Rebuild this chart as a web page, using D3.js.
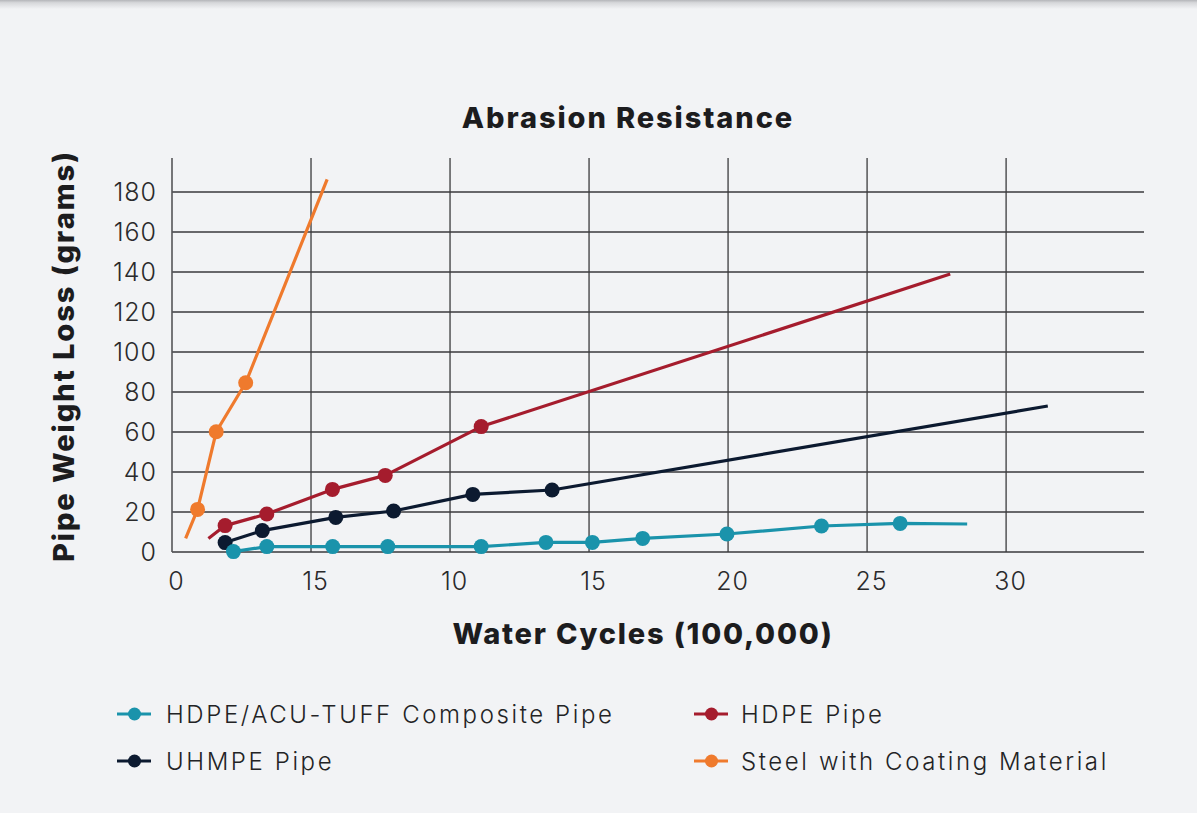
<!DOCTYPE html>
<html>
<head>
<meta charset="utf-8">
<script src="https://cdn.jsdelivr.net/npm/d3@7"></script>
<style>
  html, body { margin: 0; padding: 0; background: #f2f3f5; }
  svg { display: block; }
</style>
</head>
<body>
<svg id="chart" width="1197" height="813"></svg>
<script>
// ---------- data ----------
const chartTitle = "Abrasion Resistance";
const xTitle = "Water Cycles (100,000)";
const yTitle = "Pipe Weight Loss (grams)";

const xTickValues = [0, 5, 10, 15, 20, 25, 30];
const xTickLabels = ["0", "15", "10", "15", "20", "25", "30"];
const yTickValues = [0, 20, 40, 60, 80, 100, 120, 140, 160, 180];
const yTickLabels = ["0", "20", "40", "60", "80", "100", "120", "140", "160", "180"];

const seriesNames = ["HDPE/ACU-TUFF Composite Pipe", "HDPE Pipe", "UHMPE Pipe", "Steel with Coating Material"];

// measured points (markers)
const compositeX = [2.21, 3.41, 5.78, 7.76, 11.12, 13.45, 15.12, 16.93, 19.96, 23.36, 26.19];
const compositeY = [0.2, 2.7, 2.7, 2.7, 2.7, 4.8, 4.8, 6.8, 9.0, 13.0, 14.3];
const hdpeX = [1.91, 3.41, 5.77, 7.67, 11.12];
const hdpeY = [13.2, 19.0, 31.3, 38.3, 62.7];
const uhmpeX = [1.91, 3.25, 5.89, 7.97, 10.82, 13.67];
const uhmpeY = [4.7, 10.7, 17.3, 20.5, 28.8, 31.0];
const steelX = [0.92, 1.59, 2.65];
const steelY = [21.3, 60.1, 84.6];

// trend-line extension ends (no markers): [x, y] or null
const compositeStart = null, compositeEnd = [28.6, 14.0];
const hdpeStart = [1.31, 6.8], hdpeEnd = [27.99, 139.0];
const uhmpeStart = null, uhmpeEnd = [31.5, 73.0];
const steelStart = [0.49, 6.85], steelEnd = [5.58, 186.3];

// ---------- styles ----------
const colors = {
  composite: "#1a93ab",
  hdpe: "#a51c2d",
  uhmpe: "#0c1a30",
  steel: "#ef7a2d"
};

const svg = d3.select("#chart");
const W = 1197, H = 813;

// background & top shadow
svg.append("rect").attr("width", W).attr("height", H).attr("fill", "#f2f3f5");
const defs = svg.append("defs");
const grad = defs.append("linearGradient").attr("id", "topShade").attr("x1", 0).attr("x2", 0).attr("y1", 0).attr("y2", 1);
grad.append("stop").attr("offset", "0%").attr("stop-color", "#b4b5b9");
grad.append("stop").attr("offset", "30%").attr("stop-color", "#d6d7da");
grad.append("stop").attr("offset", "100%").attr("stop-color", "#f2f3f5");
svg.append("rect").attr("x", 0).attr("y", 0).attr("width", W).attr("height", 9).attr("fill", "url(#topShade)");

// ---------- scales ----------
const plotLeft = 172, plotRight = 1144, plotBottom = 552, plotTop = 158;
const x = d3.scaleLinear().domain([0, 34.96]).range([plotLeft, plotRight]);
const y = d3.scaleLinear().domain([0, 197]).range([plotBottom, plotTop]);

const grid = svg.append("g");
grid.selectAll("line.h").data(yTickValues).join("line")
  .attr("class", "h")
  .attr("x1", plotLeft).attr("x2", plotRight)
  .attr("y1", d => y(d)).attr("y2", d => y(d))
  .attr("stroke", "#3a3a3c").attr("stroke-width", 1.3);
grid.selectAll("line.v").data(xTickValues.filter(d => d > 0)).join("line")
  .attr("class", "v")
  .attr("x1", d => x(d)).attr("x2", d => x(d))
  .attr("y1", plotTop).attr("y2", plotBottom)
  .attr("stroke", "#3a3a3c").attr("stroke-width", 1.3);
grid.append("line")
  .attr("x1", x(0)).attr("x2", x(0)).attr("y1", plotTop).attr("y2", plotBottom)
  .attr("stroke", "#555558").attr("stroke-width", 1.6);

// ---------- axes ----------
const tickFont = "Inter, 'Open Sans', sans-serif";
const xAxis = d3.axisBottom(x).tickValues(xTickValues)
  .tickFormat((d, i) => xTickLabels[i]).tickSize(0).tickPadding(0);
const gx = svg.append("g").attr("transform", `translate(4,${plotBottom})`).call(xAxis);
gx.select(".domain").remove();
gx.selectAll("text")
  .attr("dy", null).attr("y", 38)
  .attr("font-family", tickFont).attr("font-size", 25).attr("font-weight", 300)
  .attr("letter-spacing", 1)
  .attr("fill", "#2a2a2c");

const yAxis = d3.axisLeft(y).tickValues(yTickValues)
  .tickFormat((d, i) => yTickLabels[i]).tickSize(0).tickPadding(0);
const gy = svg.append("g").attr("transform", `translate(157,0)`).call(yAxis);
gy.select(".domain").remove();
gy.selectAll("text")
  .attr("x", 0).attr("dy", "0.35em")
  .attr("font-family", tickFont).attr("font-size", 25).attr("font-weight", 300)
  .attr("letter-spacing", 1)
  .attr("fill", "#2a2a2c");

// ---------- titles ----------
const titleFont = "Inter, 'Open Sans', sans-serif";
svg.append("text").text(chartTitle)
  .attr("x", 628).attr("y", 128).attr("text-anchor", "middle")
  .attr("font-family", titleFont).attr("font-size", 29).attr("font-weight", 800)
  .attr("letter-spacing", 1.9)
  .attr("fill", "#1c1c1e");

svg.append("text").text(xTitle)
  .attr("x", 643).attr("y", 644).attr("text-anchor", "middle")
  .attr("font-family", titleFont).attr("font-size", 29).attr("font-weight", 800)
  .attr("letter-spacing", 1.8)
  .attr("fill", "#1c1c1e");

svg.append("text").text(yTitle)
  .attr("transform", "translate(74,356) rotate(-90)").attr("text-anchor", "middle")
  .attr("font-family", titleFont).attr("font-size", 29).attr("font-weight", 800)
  .attr("letter-spacing", 1.95)
  .attr("fill", "#1c1c1e");

// ---------- series ----------
function buildSeries(xs, ys, start, end) {
  const pts = xs.map((v, i) => [v, ys[i]]);
  const linePts = (start ? [start] : []).concat(pts, end ? [end] : []);
  return { pts, linePts };
}
const series = [
  { key: "uhmpe", ...buildSeries(uhmpeX, uhmpeY, uhmpeStart, uhmpeEnd) },
  { key: "hdpe", ...buildSeries(hdpeX, hdpeY, hdpeStart, hdpeEnd) },
  { key: "composite", ...buildSeries(compositeX, compositeY, compositeStart, compositeEnd) },
  { key: "steel", ...buildSeries(steelX, steelY, steelStart, steelEnd) }
];

const line = d3.line().x(d => x(d[0])).y(d => y(d[1]));
const sg = svg.append("g");
series.forEach(s => {
  const g = sg.append("g");
  g.append("path").attr("d", line(s.linePts))
    .attr("fill", "none").attr("stroke", colors[s.key]).attr("stroke-width", 3.2)
    .attr("stroke-linejoin", "round");
  g.selectAll("circle").data(s.pts).join("circle")
    .attr("cx", d => x(d[0])).attr("cy", d => y(d[1])).attr("r", 7.5)
    .attr("fill", colors[s.key]);
});

// ---------- legend ----------
const legendItems = [
  { name: seriesNames[0], key: "composite", col: 0, row: 0 },
  { name: seriesNames[1], key: "hdpe", col: 1, row: 0 },
  { name: seriesNames[2], key: "uhmpe", col: 0, row: 1 },
  { name: seriesNames[3], key: "steel", col: 1, row: 1 }
];
const colX = [117, 694];
const rowY = [714, 761];
const lg = svg.append("g");
legendItems.forEach(it => {
  const gx0 = colX[it.col], gy0 = rowY[it.row];
  const g = lg.append("g").attr("transform", `translate(${gx0},${gy0})`);
  g.append("line").attr("x1", 0).attr("x2", 34).attr("y1", 0).attr("y2", 0)
    .attr("stroke", colors[it.key]).attr("stroke-width", 3.2);
  g.append("circle").attr("cx", 17.5).attr("cy", 0).attr("r", 6.5).attr("fill", colors[it.key]);
  g.append("text").text(it.name)
    .attr("x", it.col === 0 ? 49 : 47).attr("y", 8.5)
    .attr("font-family", tickFont).attr("font-size", 24).attr("font-weight", 300)
    .attr("letter-spacing", 2.6)
    .attr("fill", "#232325");
});
</script>
</body>
</html>
